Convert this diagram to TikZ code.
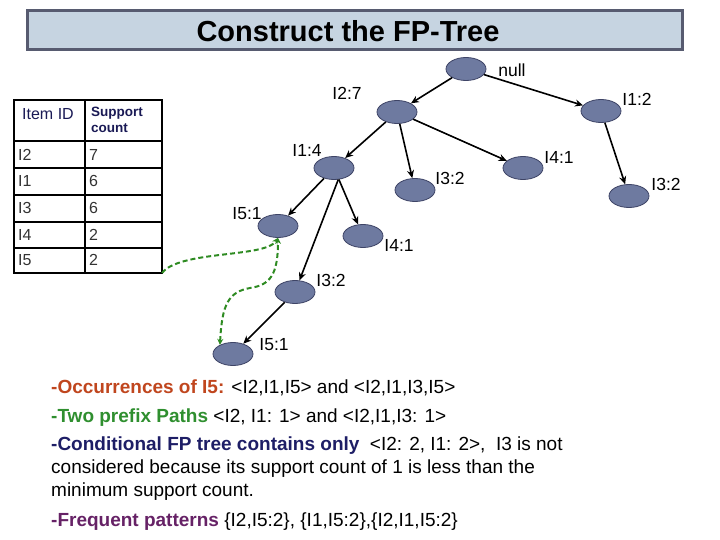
\documentclass[tikz,border=0pt]{standalone}
\usepackage{fontspec}
\setmainfont{Liberation Sans}
\usepackage{xcolor}
\usetikzlibrary{arrows.meta}
\usetikzlibrary{shapes.geometric}
\definecolor{titlefill}{HTML}{C6D4E1}
\definecolor{titleline}{HTML}{575B70}
\definecolor{fpfill}{HTML}{6E7AA0}
\definecolor{fpline}{HTML}{3E4466}
\definecolor{linkgreen}{HTML}{2E8B22}
\definecolor{occ}{HTML}{C0461E}
\definecolor{pre}{HTML}{2F8F2F}
\definecolor{cond}{HTML}{1E1E66}
\definecolor{freq}{HTML}{662266}
\definecolor{hdr}{HTML}{1A1A55}

\begin{document}
\begin{tikzpicture}[x=1pt,y=-1pt,
  fpnode/.style={ellipse,draw=fpline,fill=fpfill,line width=0.8pt,minimum width=40pt,minimum height=23pt,inner sep=0pt},
  fplab/.style={font=\fontsize{17.5}{20}\selectfont,inner sep=0pt},
  cell/.style={font=\fontsize{16}{19}\selectfont,anchor=west,inner sep=0pt,text=black!80},
  treeedge/.style={line width=1.6pt,-{Stealth[length=8pt,width=7pt]}},
  link/.style={linkgreen,line width=2pt,dash pattern=on 5pt off 3pt,{Stealth[length=6pt,width=6pt]}-{Stealth[length=6pt,width=6pt]}}]
\useasboundingbox (0,0) rectangle (720,540);

%title
\node[draw=titleline,fill=titlefill,line width=3pt,minimum width=655pt,minimum height=39pt,inner sep=0pt] (titlebox) at (354.5,30.5) {};
\node[font=\fontsize{29}{32}\selectfont\bfseries,inner sep=0pt] (title) at (348,31) {Construct the FP-Tree};

%table
\draw[line width=2.5pt] (14,100) rectangle (162,273);
\draw[line width=1.5pt] (85,100) -- (85,273);
\foreach \y in {141,168,195,222,248}
  \draw[line width=1.5pt] (14,\y) -- (162,\y);
\coordinate (tblcorner) at (162,273);
\node[cell,text=hdr] (hid) at (22,114) {Item ID};
\node[cell,text=hdr,font=\fontsize{13.5}{16}\selectfont\bfseries,align=left] (hsup) at (91,120) {Support\\count};
\foreach \i/\c/\y in {I2/7/155,I1/6/181,I3/6/208,I4/2/235,I5/2/260}{
  \node[cell] (item-\i) at (18,\y) {\i};
  \node[cell] (cnt-\i) at (89,\y) {\c};
}

%tree
\node[fpnode] (null) at (466,69) {};
\node[fpnode] (i27) at (397,112) {};
\node[fpnode] (i14) at (334,168) {};
\node[fpnode] (i32a) at (415,190) {};
\node[fpnode] (i41a) at (523,168) {};
\node[fpnode] (i51a) at (278,226) {};
\node[fpnode] (i41b) at (363,236) {};
\node[fpnode] (i32b) at (295,292) {};
\node[fpnode] (i51b) at (233,354) {};
\node[fpnode] (i12) at (601,111) {};
\node[fpnode] (i32c) at (629,196) {};

\node[fplab] (lnull) at (512,70) {null};
\node[fplab] (l27) at (347,93) {I2:7};
\node[fplab] (l14) at (307,150) {I1:4};
\node[fplab] (l32a) at (450,178) {I3:2};
\node[fplab] (l41a) at (559,157) {I4:1};
\node[fplab] (l51a) at (247,214) {I5:1};
\node[fplab] (l41b) at (399,245) {I4:1};
\node[fplab] (l32b) at (331,280) {I3:2};
\node[fplab] (l51b) at (274,345) {I5:1};
\node[fplab] (l12) at (637,99) {I1:2};
\node[fplab] (l32c) at (666,184) {I3:2};

\draw[treeedge] (null) -- (i27);
\draw[treeedge] (null) -- (i12);
\draw[treeedge] (i27) -- (i14);
\draw[treeedge] (i27) -- (i32a);
\draw[treeedge] (i27) -- (i41a);
\draw[treeedge] (i14) -- (i51a);
\draw[treeedge] (i14) -- (i41b);
\draw[treeedge] (i14.290) -- (i32b);
\draw[treeedge] (i32b) -- (i51b);
\draw[treeedge] (i12) -- (i32c);

%node links
\draw[link,{}-{Stealth[length=6pt,width=6pt]}] (tblcorner) .. controls (180,250) and (265,258) .. (i51a.south);
\draw[link] (i51b.145) .. controls (222,305) and (228,292) .. (250,288)
  .. controls (270,285) and (278,275) .. (i51a.south);

%text
\node[anchor=base west,inner sep=0pt,font=\fontsize{19}{22}\selectfont] (t1) at (51,393)
  {\textcolor{occ}{\bfseries -Occurrences of I5:} <I2,I1,I5> and <I2,I1,I3,I5>};
\node[anchor=base west,inner sep=0pt,font=\fontsize{19}{22}\selectfont] (t2) at (51,422)
  {\textcolor{pre}{\bfseries -Two prefix Paths} <I2, I1: 1> and <I2,I1,I3: 1>};
\node[anchor=north west,inner sep=0pt,align=left,font=\fontsize{19}{23}\selectfont] (t3) at (51,437)
  {\textcolor{cond}{\bfseries -Conditional FP tree contains only}\ \ <I2: 2, I1: 2>,\ \ I3 is not\\
   considered because its support count of 1 is less than the\\
   minimum support count.};
\node[anchor=base west,inner sep=0pt,font=\fontsize{19}{22}\selectfont] (t6) at (51,526)
  {\textcolor{freq}{\bfseries -Frequent patterns} \{I2,I5:2\}, \{I1,I5:2\},\{I2,I1,I5:2\}};
\end{tikzpicture}
\end{document}
